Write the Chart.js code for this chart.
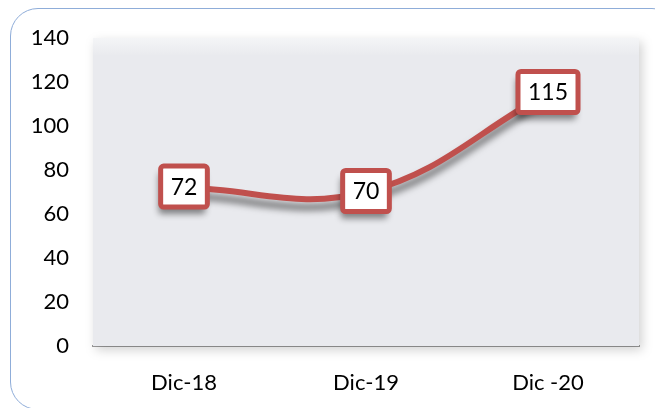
<!DOCTYPE html>
<html>
<head>
<meta charset="utf-8">
<script src="https://cdn.jsdelivr.net/npm/chart.js@4.4.0/dist/chart.umd.min.js"></script>
<style>
  html, body { margin: 0; padding: 0; background: #fff; overflow: hidden; }
  #frame {
    position: absolute; left: 10px; top: 8px; width: 670px; height: 402px;
    border: 1px solid #8fadd9; border-radius: 28px; box-sizing: border-box;
  }
  #wrap { position: absolute; left: 0; top: 0; width: 655px; height: 408px; }
</style>
</head>
<body>
<div id="frame"></div>
<div id="wrap"><canvas id="lineChart"></canvas></div>
<script>
const periods = ['Dic-18', 'Dic-19', 'Dic -20'];
const values = [72, 70, 115];
const yMin = 0;
const yMax = 140;
const yStep = 20;

const red = '#c0504d';
const font = 'Lato, "Open Sans", sans-serif';

// plot area background + shadow
const plotBg = {
  id: 'plotBg',
  beforeDatasetsDraw(chart) {
    const { ctx, chartArea: a } = chart;
    ctx.save();
    ctx.shadowColor = 'rgba(0,0,0,0.18)';
    ctx.shadowBlur = 10;
    ctx.shadowOffsetX = 3;
    ctx.shadowOffsetY = 4;
    const g = ctx.createLinearGradient(0, a.top, 0, a.top + 18);
    g.addColorStop(0, '#f4f5f7');
    g.addColorStop(1, '#e9eaee');
    ctx.fillStyle = g;
    ctx.fillRect(a.left, a.top, a.right - a.left, a.bottom - a.top);
    ctx.restore();
  }
};

// shadow under the line
const lineShadow = {
  id: 'lineShadow',
  beforeDatasetDraw(chart) {
    const ctx = chart.ctx;
    ctx.save();
    ctx.shadowColor = 'rgba(0,0,0,0.55)';
    ctx.shadowBlur = 7;
    ctx.shadowOffsetX = -2;
    ctx.shadowOffsetY = 8;
  },
  afterDatasetDraw(chart) {
    chart.ctx.restore();
  }
};

// value boxes at the points
const valueBoxes = {
  id: 'valueBoxes',
  afterDatasetsDraw(chart) {
    const ctx = chart.ctx;
    const meta = chart.getDatasetMeta(0);
    ctx.save();
    ctx.font = '23px ' + font;
    ctx.textAlign = 'center';
    ctx.textBaseline = 'middle';
    meta.data.forEach((pt, i) => {
      const txt = String(chart.data.datasets[0].data[i]);
      const w = ctx.measureText(txt).width + 20;
      const h = 41;
      const x = pt.x - w / 2;
      const y = pt.y - h / 2 - 1;
      ctx.save();
      ctx.shadowColor = 'rgba(0,0,0,0.45)';
      ctx.shadowBlur = 6;
      ctx.shadowOffsetX = -2;
      ctx.shadowOffsetY = 7;
      ctx.fillStyle = '#fff';
      ctx.beginPath();
      ctx.roundRect(x, y, w, h, 3);
      ctx.fill();
      ctx.restore();
      ctx.lineWidth = 5;
      ctx.strokeStyle = red;
      ctx.beginPath();
      ctx.roundRect(x, y, w, h, 3);
      ctx.stroke();
      ctx.fillStyle = '#000';
      ctx.fillText(txt, pt.x, y + h / 2 + 1);
    });
    ctx.restore();
  }
};

const ctx = document.getElementById('lineChart').getContext('2d');
const lineChart = new Chart(ctx, {
  type: 'line',
  data: {
    labels: periods,
    datasets: [{
      data: values,
      borderColor: red,
      borderWidth: 6,
      tension: 0.4,
      pointRadius: 0,
      fill: false,
    }],
  },
  options: {
    responsive: true,
    maintainAspectRatio: false,
    animation: false,
    layout: { padding: { top: 38, right: 16, bottom: 0, left: 0 } },
    plugins: {
      legend: { display: false },
      tooltip: { enabled: false },
    },
    scales: {
      x: {
        offset: true,
        grid: { display: false, drawTicks: false },
        border: { display: true, color: '#9c9c9c', width: 2 },
        ticks: { color: '#000', font: { family: font, size: 22 }, padding: 24 },
        afterFit(scale) { scale.height = 62; },
      },
      y: {
        min: yMin,
        max: yMax,
        grid: { display: false, drawTicks: false },
        border: { display: true, color: '#9c9c9c', width: 1 },
        ticks: {
          stepSize: yStep,
          color: '#000',
          font: { family: font, size: 22 },
          padding: 24,
        },
        afterFit(scale) { scale.width = 93; },
      },
    },
  },
  plugins: [plotBg, lineShadow, valueBoxes],
});
</script>
</body>
</html>
